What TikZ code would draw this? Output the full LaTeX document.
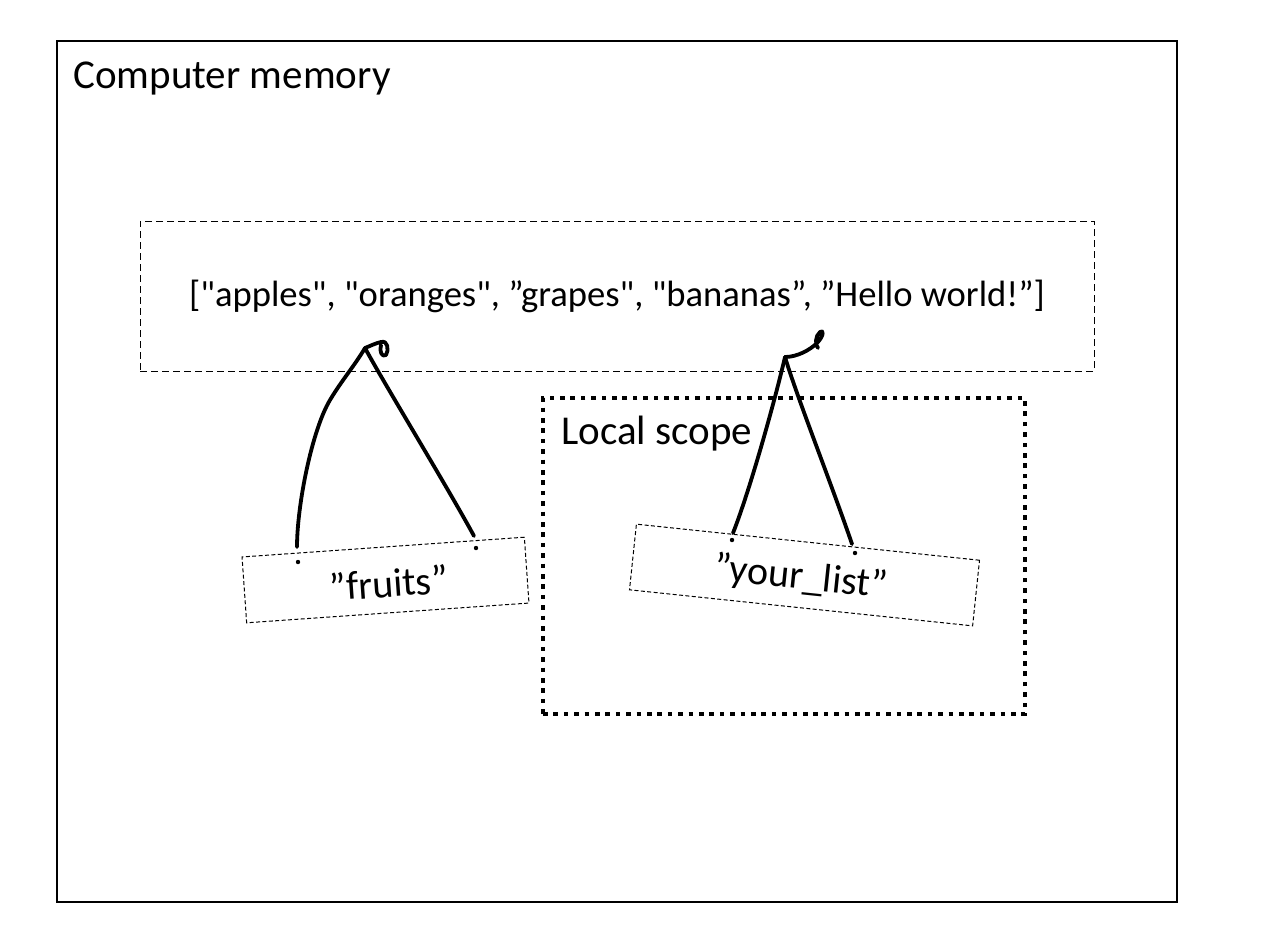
\documentclass[tikz,border=0pt]{standalone}
\usepackage{fontspec}
\setmainfont{Carlito}[Ligatures=TeXOff]
\usetikzlibrary{calc}
\begin{document}
\begin{tikzpicture}[x=0.5pt,y=-0.5pt,
  membox/.style={draw,line width=0.75pt,inner sep=0pt,outer sep=0pt,minimum width=560pt,minimum height=430.5pt},
  listbox/.style={draw,line width=0.5pt,dash pattern=on 3.5pt off 2pt,inner sep=0pt,minimum width=477pt,minimum height=75pt,font=\fontsize{18.3}{22}\selectfont},
  scopebox/.style={draw,line width=2.2pt,dash pattern=on 2.3pt off 2.9pt,inner sep=0pt,minimum width=241pt,minimum height=158pt},
  tagbox/.style={draw,line width=0.5pt,dash pattern=on 2pt off 1.2pt,inner sep=0pt,minimum height=33pt},
  tagtext/.style={inner sep=0pt,font=\fontsize{20}{24}\selectfont},
  biglabel/.style={anchor=base west,inner sep=0pt,font=\fontsize{20.5}{24}\selectfont},
  hole/.style={circle,fill,inner sep=0pt,minimum size=2.2pt},
  string/.style={line width=1.9pt,line cap=round,line join=round}]
\useasboundingbox (0,0) rectangle (1272,938);
% boxes
\node[membox] (mem) at (617,471.5) {};
\node[biglabel] (memlabel) at (73,88) {Computer memory};
\node[listbox] (list) at (617,296) {["apples", "oranges", ”grapes", "bananas”, ”Hello world!”]};
\node[scopebox] (scope) at (784,556) {};
\node[biglabel] (scopelabel) at (561,444) {Local scope};
% tags
\node[tagbox,minimum width=141.5pt,rotate=4] (fruits) at (385.5,580) {};
\node[tagtext,rotate=4] (fruitstext) at (389,583) {”fruits”};
\node[tagbox,minimum width=172.5pt,rotate=-6] (yourlist) at (804.5,575) {};
\node[tagtext,rotate=-6] (yourlisttext) at (801,578) {”your\_list”};
% holes
\node[hole] (fh1) at (298,562) {};
\node[hole] (fh2) at (476,548) {};
\node[hole] (yh1) at (732,540) {};
\node[hole] (yh2) at (855,553) {};
% string end points and hooks
\coordinate (fl) at (297,547);
\coordinate (fr) at (474,536);
\coordinate (fa) at (365,348);
\coordinate (yl) at (733,533);
\coordinate (yr) at (852,544);
\coordinate (ya) at (785,357);
% fruits strings
\draw[string] (fl) .. controls (297,505) and (312,430) .. (330,400)
   .. controls (342,380) and (355,365) .. (fa);
\draw[string] (fa) .. controls (385,385) and (448,488) .. (fr);
\draw[string] (fa) .. controls (370,346) and (376,343) .. (381,342)
   .. controls (388,340) and (389,350) .. (386,355)
   .. controls (382,358) and (379,351) .. (381,345);
% your_list strings
\draw[string] (yl) .. controls (750,490) and (775,400) .. (ya);
\draw[string] (ya) .. controls (798,400) and (830,480) .. (yr);
\draw[string] (ya) .. controls (797,357) and (810,350) .. (817,343)
   .. controls (824,336) and (824,329) .. (820,332)
   .. controls (815,336) and (815,345) .. (818,348);
\end{tikzpicture}
\end{document}
